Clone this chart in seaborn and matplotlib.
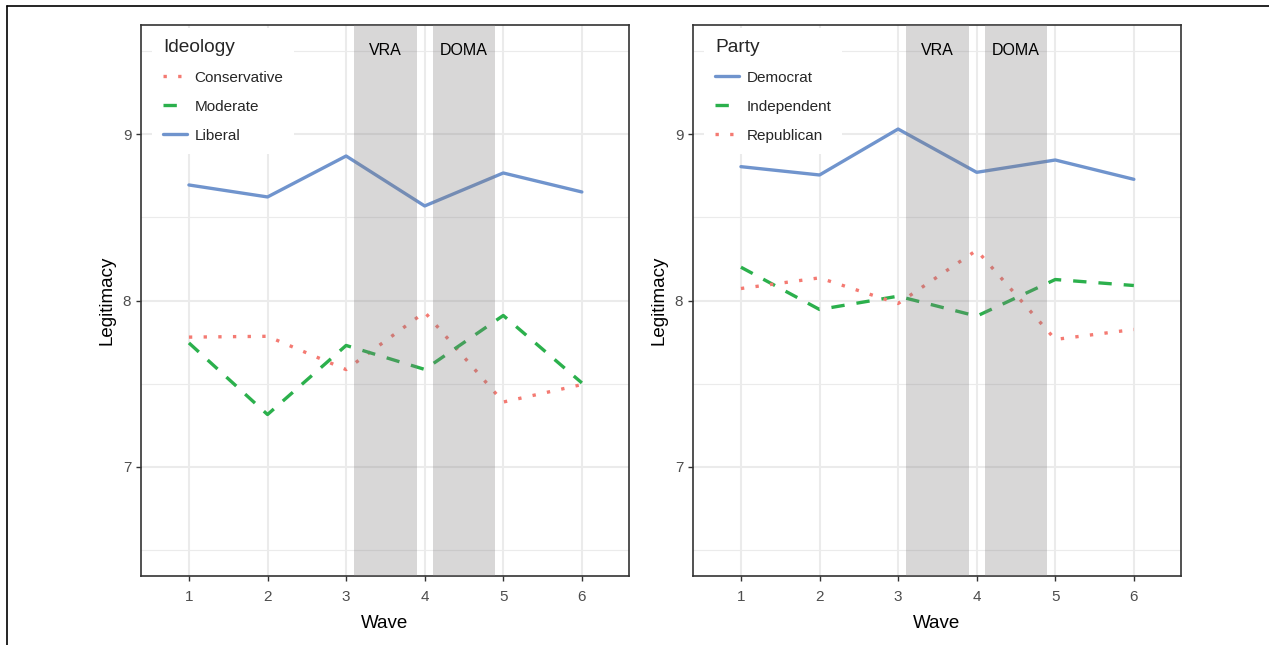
import pandas as pd
import numpy as np
import seaborn as sns
import matplotlib.pyplot as plt
from matplotlib.lines import Line2D

waves = [1, 2, 3, 4, 5, 6]

# panel 1: ideology
ideology_groups = ["Conservative", "Moderate", "Liberal"]
conservative = [7.78, 7.785, 7.585, 7.93, 7.39, 7.495]
moderate = [7.745, 7.315, 7.73, 7.586, 7.91, 7.505]
liberal = [8.694, 8.622, 8.868, 8.568, 8.766, 8.652]

# panel 2: party
party_groups = ["Democrat", "Independent", "Republican"]
democrat = [8.804, 8.754, 9.03, 8.77, 8.844, 8.728]
independent = [8.2, 7.946, 8.026, 7.906, 8.126, 8.09]
republican = [8.072, 8.136, 7.982, 8.302, 7.766, 7.826]

events = ["VRA", "DOMA"]
event_spans = [(3.1, 3.9), (4.1, 4.9)]

RED = "#f47a72"
GREEN = "#2bb04c"
BLUE = "#7094cd"
DOT = (1, 3.4)
DASH = (4.0, 3.6)
LW = 2.4

sns.set_theme(style="white")
plt.rcParams["font.family"] = ["Liberation Sans", "DejaVu Sans"]


def long_df(groups, series):
    rows = []
    for g, vals in zip(groups, series):
        for w, v in zip(waves, vals):
            rows.append({"Wave": w, "group": g, "Legitimacy": v})
    return pd.DataFrame(rows)


def draw_panel(ax, df, groups, palette, dashes, title):
    ax.set_axisbelow(True)
    sns.lineplot(data=df, x="Wave", y="Legitimacy", hue="group", style="group",
                 hue_order=groups, style_order=groups, palette=palette,
                 dashes=dashes, linewidth=LW, legend=False, ax=ax, zorder=2)
    for (a, b), name in zip(event_spans, events):
        ax.axvspan(a, b, color="#7f7b7d", alpha=0.3, lw=0, zorder=3)
        ax.text((a + b) / 2, 9.5, name, ha="center", va="center",
                fontsize=11.5, color="black", zorder=4)
    ax.set_xlim(0.39, 6.6)
    ax.set_ylim(6.345, 9.655)
    ax.set_xticks(waves)
    ax.set_yticks([7, 8, 9])
    ax.set_yticks([6.5, 7.5, 8.5, 9.5], minor=True)
    ax.grid(which="major", color="#ebebeb", lw=1.5)
    ax.grid(which="minor", axis="y", color="#ebebeb", lw=0.8)
    ax.tick_params(axis="both", which="major", length=3.5, width=1.0,
                   color="#333333", labelcolor="#4d4d4d", labelsize=11,
                   bottom=True, left=True)
    ax.tick_params(axis="x", which="major", pad=6.5)
    ax.tick_params(axis="y", which="major", pad=3.5)
    ax.tick_params(axis="y", which="minor", length=0)
    for sp in ax.spines.values():
        sp.set_color("#333333")
        sp.set_linewidth(1.2)
    ax.set_xlabel("Wave", fontsize=13.5, color="black", labelpad=8)
    ax.set_ylabel("Legitimacy", fontsize=13.5, color="black", labelpad=5)

    handles = []
    for g in groups:
        h = Line2D([], [], color=palette[g], lw=LW)
        if dashes[g]:
            h.set_dashes(dashes[g])
        handles.append(h)
    leg = ax.legend(handles, groups, title=title, loc="upper left",
                    bbox_to_anchor=(0.0225, 0.995), borderaxespad=0,
                    frameon=True, facecolor="white", edgecolor="white",
                    framealpha=1, fontsize=11, title_fontsize=13.8,
                    handlelength=1.6, handletextpad=0.45, labelspacing=0.98,
                    borderpad=0.72, alignment="left")
    leg.get_frame().set_linewidth(0)
    leg.set_zorder(5)


fig = plt.figure(figsize=(12.69, 6.45), dpi=100)
ax1 = fig.add_axes([141 / 1269, 1 - 576 / 645, 488 / 1269, 551 / 645])
ax2 = fig.add_axes([693 / 1269, 1 - 576 / 645, 488 / 1269, 551 / 645])

df1 = long_df(ideology_groups, [conservative, moderate, liberal])
draw_panel(ax1, df1, ideology_groups,
           {"Conservative": RED, "Moderate": GREEN, "Liberal": BLUE},
           {"Conservative": DOT, "Moderate": DASH, "Liberal": ""},
           "Ideology")

df2 = long_df(party_groups, [democrat, independent, republican])
draw_panel(ax2, df2, party_groups,
           {"Democrat": BLUE, "Independent": GREEN, "Republican": RED},
           {"Democrat": "", "Independent": DASH, "Republican": DOT},
           "Party")

# outer frame, cropped at right and bottom
fig.add_artist(Line2D([7 / 1269, 1], [1 - 6 / 645, 1 - 6 / 645],
                      transform=fig.transFigure, color="black", lw=1.2))
fig.add_artist(Line2D([7 / 1269, 7 / 1269], [0, 1 - 6 / 645],
                      transform=fig.transFigure, color="black", lw=1.2))

fig.savefig("out.png", dpi=100)
